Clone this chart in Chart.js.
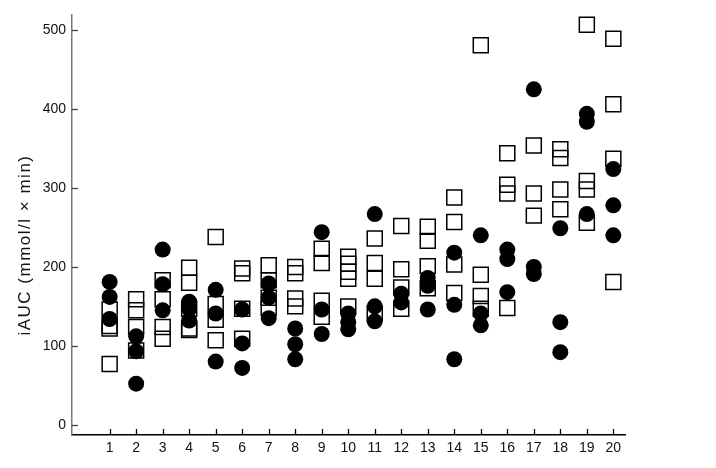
<!DOCTYPE html>
<html>
<head>
<meta charset="utf-8">
<script src="https://cdn.jsdelivr.net/npm/chart.js@4/dist/chart.umd.min.js"></script>
<style>
  body { margin: 0; background: #fff; }
  canvas { display: block; }
</style>
</head>
<body>
<canvas id="iaucChart" width="716" height="468"></canvas>
<script>
// subjects on the x axis
const categories = [1, 2, 3, 4, 5, 6, 7, 8, 9, 10, 11, 12, 13, 14, 15, 16, 17, 18, 19, 20];
const yTicks = [0, 100, 200, 300, 400, 500];
const yTitle = "iAUC (mmol/l \u00d7 min)";

// open squares, one list per subject
const squareValues = [
    [146, 125, 122, 77],
    [159, 145, 124, 94],
    [183, 159, 124, 109],
    [199, 180, 147, 122, 120],
    [238, 153, 133, 107],
    [198, 192, 147, 109],
    [202, 183, 161, 148],
    [200, 192, 160, 150],
    [223, 205, 157, 137],
    [213, 204, 194, 185, 150],
    [236, 205, 185, 141],
    [252, 197, 174, 147],
    [251, 233, 201, 173],
    [288, 257, 203, 167],
    [481, 190, 163, 147],
    [344, 304, 293, 148],
    [354, 293, 265],
    [349, 338, 298, 273],
    [507, 309, 298, 256],
    [489, 406, 337, 181]
];

// filled circles, one list per subject
const circleValues = [
    [181, 162, 134],
    [112, 93, 52],
    [222, 178, 145],
    [156, 147, 132],
    [171, 141, 80],
    [146, 103, 72],
    [179, 161, 135],
    [122, 102, 83],
    [244, 146, 115],
    [141, 130, 121],
    [267, 150, 131],
    [166, 155],
    [186, 176, 146],
    [218, 152, 83],
    [240, 141, 126],
    [222, 210, 168],
    [425, 200, 191],
    [249, 130, 92],
    [394, 384, 267],
    [324, 278, 240]
];

function toPoints(groups) {
    var pts = [];
    groups.forEach(function(vals, i) {
        vals.forEach(function(v) {
            pts.push({x: categories[i], y: v});
        });
    });
    return pts;
}

const FONT = "'Liberation Sans', Arial, Helvetica, sans-serif";

// inward tick marks + rotated y title
const axisExtras = {
    id: 'axisExtras',
    afterDraw: function(chart) {
        var ctx = chart.ctx;
        var x = chart.scales.x, y = chart.scales.y;
        var area = chart.chartArea;
        ctx.save();
        ctx.lineWidth = 1.3;
        ctx.strokeStyle = '#444';
        y.ticks.forEach(function(t) {
            var py = Math.round(y.getPixelForValue(t.value)) + 0.5;
            ctx.beginPath();
            ctx.moveTo(area.left, py);
            ctx.lineTo(area.left + 6, py);
            ctx.stroke();
        });
        ctx.strokeStyle = '#000';
        x.ticks.forEach(function(t) {
            var px = Math.round(x.getPixelForValue(t.value)) + 0.5;
            ctx.beginPath();
            ctx.moveTo(px, area.bottom);
            ctx.lineTo(px, area.bottom - 6);
            ctx.stroke();
        });
        ctx.translate(25, 245);
        ctx.rotate(-Math.PI / 2);
        ctx.fillStyle = '#111';
        ctx.font = '17px ' + FONT;
        ctx.letterSpacing = '1.5px';
        ctx.textAlign = 'center';
        ctx.textBaseline = 'middle';
        ctx.fillText(yTitle, 0, 0);
        ctx.restore();
    }
};

new Chart(document.getElementById('iaucChart'), {
    type: 'scatter',
    data: {
        datasets: [
            {
                label: 'circles',
                data: toPoints(circleValues),
                pointStyle: 'circle',
                pointRadius: 8,
                pointHoverRadius: 8,
                backgroundColor: '#000',
                borderColor: '#000',
                borderWidth: 0
            },
            {
                label: 'squares',
                data: toPoints(squareValues),
                pointStyle: 'rect',
                pointRadius: 10.6,
                pointHoverRadius: 10.6,
                backgroundColor: 'rgba(0,0,0,0)',
                borderColor: '#000',
                borderWidth: 1.5
            }
        ]
    },
    options: {
        responsive: false,
        animation: false,
        layout: { padding: { top: 7, right: 91, bottom: 0, left: 0 } },
        plugins: {
            legend: { display: false },
            tooltip: { enabled: false }
        },
        scales: {
            x: {
                type: 'linear',
                min: -0.42,
                max: 20.44,
                afterBuildTicks: function(scale) {
                    scale.ticks = categories.map(function(v) { return {value: v}; });
                },
                afterFit: function(scale) { scale.height = 33; },
                grid: { display: false, drawTicks: false },
                border: { display: true, color: '#000', width: 1.5 },
                ticks: {
                    padding: 5,
                    maxRotation: 0,
                    autoSkip: false,
                    color: '#111',
                    font: { family: FONT, size: 14 }
                }
            },
            y: {
                min: -13,
                max: 520,
                afterBuildTicks: function(scale) {
                    scale.ticks = yTicks.map(function(v) { return {value: v}; });
                },
                afterFit: function(scale) { scale.width = 72; },
                grid: { display: false, drawTicks: false },
                border: { display: true, color: '#777', width: 1.5 },
                ticks: {
                    padding: 6,
                    color: '#111',
                    font: { family: FONT, size: 14 }
                }
            }
        }
    },
    plugins: [axisExtras]
});
</script>
</body>
</html>
